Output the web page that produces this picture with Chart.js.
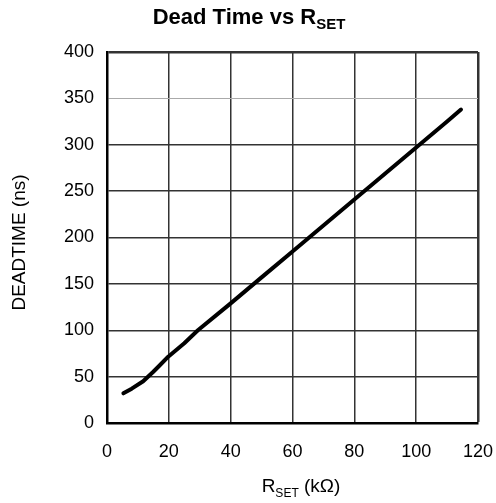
<!DOCTYPE html>
<html>
<head>
<meta charset="utf-8">
<title>Dead Time vs RSET</title>
<script src="https://cdn.jsdelivr.net/npm/chart.js@4.4.1/dist/chart.umd.min.js"></script>
<style>
  html, body { margin: 0; padding: 0; background: #fff; }
  #wrap { width: 496px; height: 503px; }
</style>
</head>
<body>
<div id="wrap"><canvas id="deadtimeChart" width="496" height="503"></canvas></div>
<script>
// Data
const rsetValues = [5.3, 8, 11.7, 14.9, 17, 19.8, 25, 29.4, 40, 50, 60, 70, 80, 90, 100, 110, 114.5];
const deadtimeValues = [32, 37, 45, 55, 62, 71.5, 86, 100, 129, 157, 185, 213, 241, 269, 297, 325, 338];
const xTicks = [0, 20, 40, 60, 80, 100, 120];
const yTicks = [0, 50, 100, 150, 200, 250, 300, 350, 400];

const FONT = '"Liberation Sans", Arial, Helvetica, sans-serif';

// Draws text with a subscript piece, e.g. R + SET
function drawSubText(ctx, parts, cx, baseline) {
  let total = 0;
  parts.forEach(p => {
    ctx.font = p.font;
    p.w = ctx.measureText(p.text).width;
    total += p.w;
  });
  let x = cx - total / 2;
  ctx.textAlign = 'left';
  ctx.textBaseline = 'alphabetic';
  parts.forEach(p => {
    ctx.font = p.font;
    ctx.fillText(p.text, x, baseline + (p.dy || 0));
    x += p.w;
  });
}

const labelsPlugin = {
  id: 'labelsPlugin',
  afterDraw(chart) {
    const ctx = chart.ctx;
    const area = chart.chartArea;
    ctx.save();
    ctx.fillStyle = '#000';

    // title
    drawSubText(ctx, [
      { text: 'Dead Time vs R', font: 'bold 22px ' + FONT },
      { text: 'SET', font: 'bold 15px ' + FONT, dy: 5 }
    ], 249, 24);

    // x axis title
    drawSubText(ctx, [
      { text: 'R', font: '19px ' + FONT },
      { text: 'SET', font: '12px ' + FONT, dy: 5 },
      { text: ' (k\u03A9)', font: '19px ' + FONT }
    ], 301, 492);

    // y axis title
    ctx.translate(20, (area.top + area.bottom) / 2 + 5);
    ctx.rotate(-Math.PI / 2);
    ctx.font = '19px ' + FONT;
    ctx.textAlign = 'center';
    ctx.textBaseline = 'middle';
    ctx.fillText('DEADTIME (ns)', 0, 0);
    ctx.restore();
  }
};

new Chart(document.getElementById('deadtimeChart'), {
  type: 'line',
  data: {
    datasets: [{
      label: 'Dead Time',
      data: rsetValues.map((x, i) => ({ x: x, y: deadtimeValues[i] })),
      borderColor: '#000',
      borderWidth: 4,
      borderCapStyle: 'round',
      borderJoinStyle: 'round',
      pointRadius: 0,
      fill: false,
      tension: 0
    }]
  },
  options: {
    responsive: false,
    animation: false,
    layout: { padding: { left: 0, top: 52, right: 18, bottom: 0 } },
    plugins: {
      legend: { display: false },
      title: { display: false },
      tooltip: { enabled: false }
    },
    scales: {
      x: {
        type: 'linear',
        min: 0,
        max: 120,
        afterBuildTicks: scale => { scale.ticks = xTicks.map(v => ({ value: v })); },
        afterFit: scale => {
          scale.height = 80;
          scale.paddingLeft = 0;
          scale.paddingRight = 0;
        },
        border: { display: true, color: '#000', width: 2.5 },
        grid: {
          drawTicks: false,
          color: '#333',
          lineWidth: ctx => (ctx.tick && ctx.tick.value === 120 ? 2.5 : 1.5)
        },
        ticks: {
          padding: 18,
          color: '#000',
          font: { family: FONT, size: 18 }
        }
      },
      y: {
        min: 0,
        max: 400,
        afterBuildTicks: scale => { scale.ticks = yTicks.map(v => ({ value: v })); },
        afterFit: scale => {
          scale.width = 107;
          scale.paddingTop = 0;
          scale.paddingBottom = 0;
        },
        border: { display: true, color: '#000', width: 2.5 },
        grid: {
          drawTicks: false,
          color: ctx => (ctx.tick && ctx.tick.value === 350 ? '#aaa' : '#333'),
          lineWidth: ctx => {
            if (!ctx.tick) return 1.5;
            if (ctx.tick.value === 400) return 2.5;
            if (ctx.tick.value === 350) return 1;
            return 1.5;
          }
        },
        ticks: {
          padding: 13,
          color: '#000',
          font: { family: FONT, size: 18 }
        }
      }
    }
  },
  plugins: [labelsPlugin]
});
</script>
</body>
</html>
